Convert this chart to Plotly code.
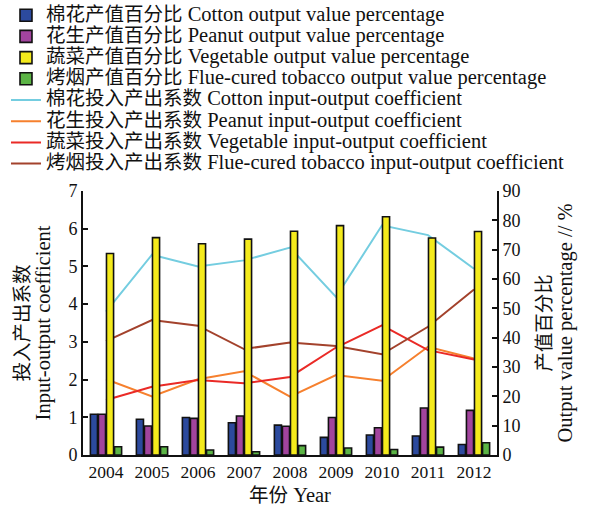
import plotly.graph_objects as go

years = ["2004", "2005", "2006", "2007", "2008", "2009", "2010", "2011", "2012"]

cotton_pct = [13.9, 12.2, 12.8, 11.0, 10.2, 6.0, 6.8, 6.5, 3.6]
peanut_pct = [13.9, 9.9, 12.5, 13.3, 9.8, 12.8, 9.3, 16.0, 15.2]
veg_pct = [68.7, 74.1, 72.0, 73.6, 76.3, 78.2, 81.2, 74.0, 76.2]
tob_pct = [2.8, 2.8, 1.7, 1.1, 3.2, 2.4, 1.9, 2.7, 4.2]

cotton_io = [3.80, 5.31, 5.00, 5.16, 5.50, 4.19, 6.09, 5.83, 4.94]
peanut_io = [2.01, 1.55, 2.01, 2.22, 1.55, 2.12, 1.97, 2.87, 2.56]
veg_io = [1.46, 1.81, 1.99, 1.90, 2.07, 2.85, 3.44, 2.78, 2.53]
tob_io = [3.02, 3.58, 3.43, 2.81, 2.98, 2.89, 2.67, 3.40, 4.39]

bar_cn = ["棉花产值百分比", "花生产值百分比", "蔬菜产值百分比", "烤烟产值百分比"]
bar_en = ["Cotton output value percentage", "Peanut output value percentage",
          "Vegetable output value percentage", "Flue-cured tobacco output value percentage"]
line_cn = ["棉花投入产出系数", "花生投入产出系数", "蔬菜投入产出系数", "烤烟投入产出系数"]
line_en = ["Cotton input-output coefficient", "Peanut input-output coefficient",
           "Vegetable input-output coefficient", "Flue-cured tobacco input-output coefficient"]

bar_colors = ["#2c4a9e", "#a2449e", "#f4ea1c", "#5bb445"]
line_colors = ["#74cde0", "#f6802e", "#ea2a26", "#a3422c"]

FONT = "Liberation Serif, Noto Sans CJK SC, serif"


def mixed(cn, en, cn_size=19.5, en_size=20.5):
    return ("<span style='font-size:%spx'>%s</span>"
            "<span style='font-size:%spx'> %s</span>" % (cn_size, cn, en_size, en))


def span(txt, size):
    return "<span style='font-size:%spx'>%s</span>" % (size, txt)


fig = go.Figure()
for cn, en, vals, col in zip(bar_cn, bar_en, [cotton_pct, peanut_pct, veg_pct, tob_pct], bar_colors):
    fig.add_trace(go.Bar(x=years, y=vals, name=mixed(cn, en), yaxis="y2",
                         marker=dict(color=col, line=dict(color="#111111", width=1.6))))
for cn, en, vals, col in zip(line_cn, line_en, [cotton_io, peanut_io, veg_io, tob_io], line_colors):
    fig.add_trace(go.Scatter(x=years, y=vals, name=mixed(cn, en), mode="lines", yaxis="y",
                             line=dict(color=col, width=2)))

fig.update_layout(
    width=595, height=515,
    paper_bgcolor="white", plot_bgcolor="white",
    font=dict(family=FONT, size=16, color="#111111"),
    margin=dict(l=83, r=98, t=191, b=60, autoexpand=False),
    barmode="group", bargap=0.3, bargroupgap=0.12,
    showlegend=True,
    legend=dict(xref="paper", yref="paper", x=-0.186, y=1.725,
                xanchor="left", yanchor="top", traceorder="normal",
                font=dict(family=FONT, size=14), bgcolor="rgba(0,0,0,0)"),
    xaxis=dict(showline=True, linewidth=2, linecolor="#111111", ticks="",
               showgrid=False, tickfont=dict(size=17.5),
               title=dict(text=span("年份", 19.5) + span(" Year", 20.5),
                          font=dict(size=16), standoff=10)),
    yaxis=dict(range=[0, 7], dtick=1, showline=True, linewidth=2, linecolor="#111111",
               ticks="inside", ticklen=5, tickwidth=2, tickcolor="#111111",
               showgrid=False, zeroline=False, tickfont=dict(size=18),
               title=dict(text=span("投入产出系数", 19.5) + "<br>" + span("Input-output coefficient", 20.5),
                          font=dict(size=16), standoff=14)),
    yaxis2=dict(range=[0, 90], dtick=10, overlaying="y", side="right",
                showline=True, linewidth=2, linecolor="#111111",
                ticks="inside", ticklen=5, tickwidth=2, tickcolor="#111111",
                showgrid=False, zeroline=False, tickfont=dict(size=18),
                title=dict(text=span("产值百分比", 19.5) + "<br>" + span("Output value percentage // %", 20.5),
                           font=dict(size=16), standoff=20)),
)

fig.write_html("out.html", config={"displayModeBar": False},
               post_script="document.body.style.margin='0';")
